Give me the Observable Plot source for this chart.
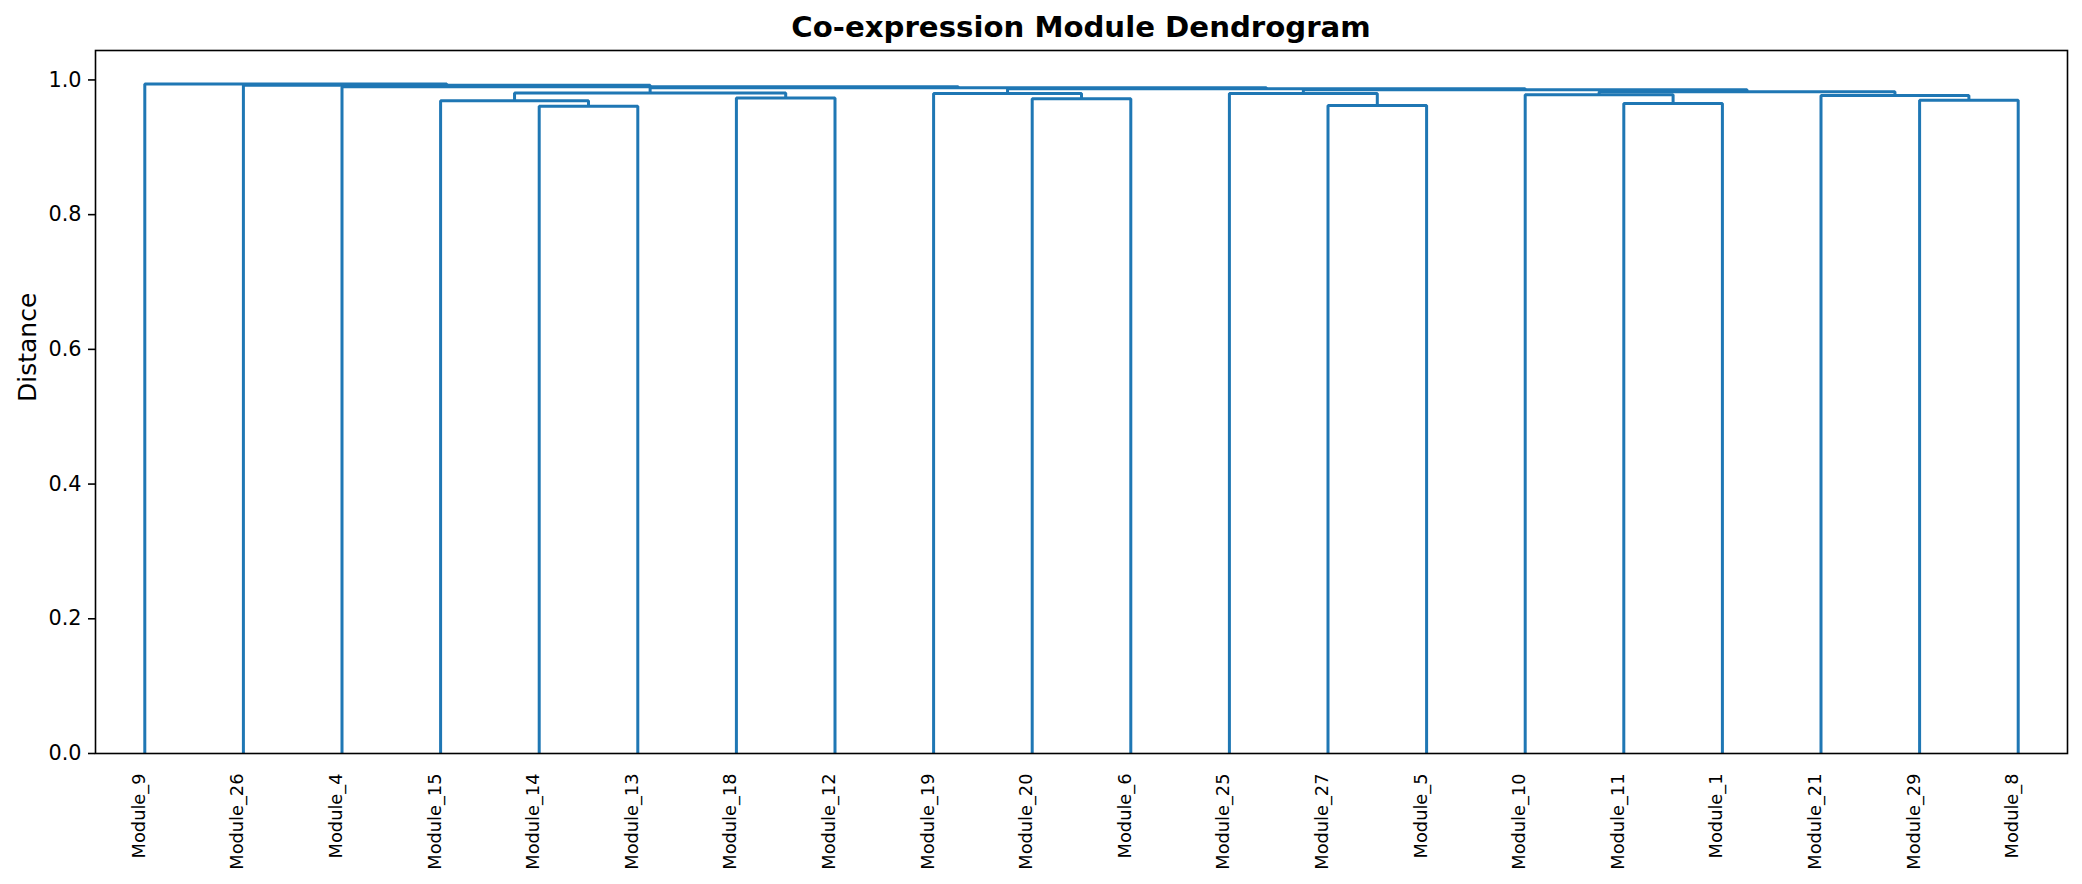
<!DOCTYPE html>
<html><head><meta charset="utf-8">
<script src="https://cdn.jsdelivr.net/npm/d3@7"></script>
<script src="https://cdn.jsdelivr.net/npm/@observablehq/plot@0.6"></script>
<style>
body{margin:0;background:#fff;}
#title{width:2082px;height:44px;box-sizing:border-box;padding-top:13px;padding-left:80px;text-align:center;font-family:"DejaVu Sans";font-weight:bold;font-size:29.2px;line-height:29px;color:#000;}
</style></head><body>
<div id="title">Co-expression Module Dendrogram</div>
<div id="chart"></div>
<script>
// Leaf order (left to right)
const leaves = ["Module_9","Module_26","Module_4","Module_15","Module_14","Module_13","Module_18","Module_12","Module_19","Module_20","Module_6","Module_25","Module_27","Module_5","Module_10","Module_11","Module_1","Module_21","Module_29","Module_8"];
// Linkage: merge i creates cluster "c{i+1}"
const mergeLeft  = ["Module_14","Module_27","Module_11","Module_15","Module_29","Module_20","Module_18","Module_21","Module_10","Module_19","Module_25","c4","c9","c11","c10","c12","Module_4","Module_26","Module_9"];
const mergeRight = ["Module_13","Module_5","Module_1","c1","Module_8","Module_6","Module_12","c5","c3","c6","c2","c7","c8","c13","c14","c15","c16","c17","c18"];
const mergeHeight = [0.961,0.962,0.965,0.969,0.970,0.972,0.973,0.977,0.978,0.980,0.980,0.9805,0.9825,0.9855,0.987,0.9885,0.990,0.992,0.994];
const yTicks = [0,0.2,0.4,0.6,0.8,1.0];

const pos = new Map(), ht = new Map();
leaves.forEach((n,i)=>{pos.set(n,5+10*i); ht.set(n,0);});
const segs = [];
mergeLeft.forEach((l,i)=>{
  const r = mergeRight[i], h = mergeHeight[i], id = "c"+(i+1);
  const xl = pos.get(l), xr = pos.get(r);
  segs.push({k:i,x:xl,y:ht.get(l)},{k:i,x:xl,y:h},{k:i,x:xr,y:h},{k:i,x:xr,y:ht.get(r)});
  pos.set(id,(xl+xr)/2); ht.set(id,h);
});

const chart = Plot.plot({
  width:2082, height:840,
  marginTop:6, marginBottom:131, marginLeft:95, marginRight:15,
  style:{fontFamily:"DejaVu Sans", fontSize:"20.8px", background:"#fff", color:"#000", overflow:"visible"},
  x:{domain:[0,10*leaves.length], axis:null},
  y:{domain:[0,1.05*d3.max(mergeHeight)]},
  marks:[
    Plot.line(segs,{x:"x",y:"y",z:"k",stroke:"#1f77b4",strokeWidth:3,strokeLinejoin:"miter",strokeLinecap:"butt"}),
    Plot.frame({stroke:"#000",strokeWidth:1.6}),
    Plot.axisY({ticks:yTicks,tickFormat:d3.format(".1f"),tickSize:7,tickPadding:7,strokeWidth:1.6,label:null,fontSize:20.8}),
    Plot.text(leaves,{x:d=>pos.get(d),text:d=>d,frameAnchor:"bottom",rotate:-90,textAnchor:"end",dy:20,fontSize:17.8}),
    Plot.text(["Distance"],{text:d=>d,frameAnchor:"left",rotate:-90,dx:-68,fontSize:25})
  ]
});
document.getElementById("chart").appendChild(chart);
</script>
</body></html>
